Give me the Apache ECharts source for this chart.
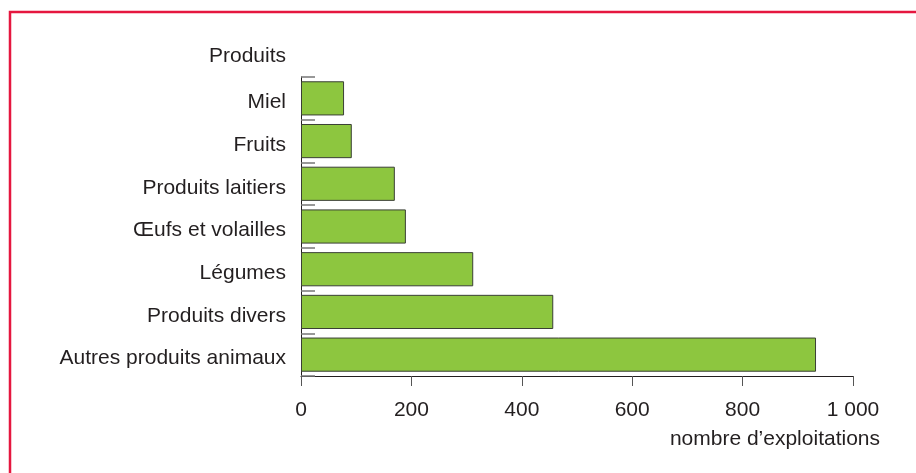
<!DOCTYPE html>
<html>
<head>
<meta charset="utf-8">
<script src="https://cdn.jsdelivr.net/npm/echarts@6/dist/echarts.min.js"></script>
<style>
html,body{margin:0;padding:0;background:#fff;}
#chart{width:916px;height:473px;}
</style>
</head>
<body>
<div id="chart"></div>
<script>
// Data (bottom to top)
const categories = ["Autres produits animaux", "Produits divers", "Légumes", "Œufs et volailles", "Produits laitiers", "Fruits", "Miel"];
const values = [933, 457, 312, 190, 170, 92, 78];
const xTickLabels = { 0: "0", 200: "200", 400: "400", 600: "600", 800: "800", 1000: "1 000" };
const yAxisTitle = "Produits";
const xAxisTitle = "nombre d’exploitations";

const textColor = "#231f20";
const font = "Liberation Sans, Arial, Helvetica, sans-serif";

const chart = echarts.init(document.getElementById('chart'), null, { renderer: 'canvas' });
chart.setOption({
  animation: false,
  backgroundColor: '#ffffff',
  grid: { left: 301, top: 77, right: 63, bottom: 97, containLabel: false },
  xAxis: {
    type: 'value',
    min: 0, max: 1000, interval: 200,
    axisLine: { show: true, lineStyle: { color: '#231f20', width: 1 } },
    axisTick: { show: true, length: 10, lineStyle: { color: '#555', width: 1 } },
    axisLabel: {
      color: textColor, fontFamily: font, fontSize: 21, margin: 24,
      formatter: v => xTickLabels[v] !== undefined ? xTickLabels[v] : String(v)
    },
    splitLine: { show: false }
  },
  yAxis: {
    type: 'category',
    data: categories,
    axisLine: { show: true, lineStyle: { color: '#231f20', width: 1 } },
    axisTick: { show: true, inside: true, length: 14, lineStyle: { color: '#777', width: 1.5 } },
    axisLabel: {
      color: textColor, fontFamily: font, fontSize: 21, margin: 15,
      formatter: v => '{a|' + v + '}',
      rich: { a: { color: textColor, fontFamily: font, fontSize: 21, lineHeight: 29, verticalAlign: 'bottom' } }
    },
    splitLine: { show: false }
  },
  series: [{
    type: 'bar',
    data: values,
    barCategoryGap: '20%',
    itemStyle: { color: '#8dc63f', borderColor: '#3a3f35', borderWidth: 1 }
  }],
  graphic: [
    {
      type: 'rect', silent: true,
      shape: { x: 10, y: 12, width: 2000, height: 2000 },
      style: { fill: 'none', stroke: '#e5173f', lineWidth: 2.5 }
    },
    {
      type: 'text', silent: true,
      x: 286, y: 56,
      style: { text: yAxisTitle, fill: textColor, font: '21px ' + font, textAlign: 'right', textVerticalAlign: 'middle' }
    },
    {
      type: 'text', silent: true,
      x: 880, y: 439,
      style: { text: xAxisTitle, fill: textColor, font: '21px ' + font, textAlign: 'right', textVerticalAlign: 'middle' }
    }
  ]
});
</script>
</body>
</html>
